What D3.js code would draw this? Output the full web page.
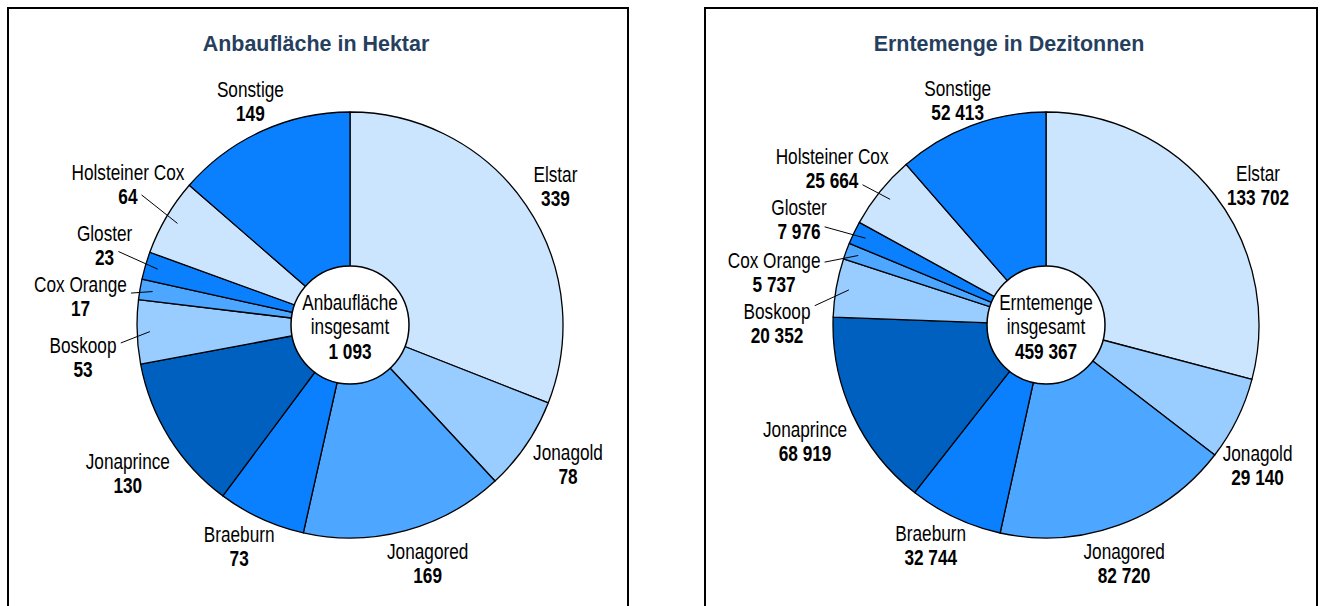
<!DOCTYPE html>
<html><head><meta charset="utf-8">
<script src="https://cdn.jsdelivr.net/npm/d3@7"></script>
<style>body{margin:0;background:#fff}svg{display:block}</style>
</head><body><svg id="c" width="1325" height="606"></svg>
<script>
const categories = ["Elstar","Jonagold","Jonagored","Braeburn","Jonaprince","Boskoop","Cox Orange","Gloster","Holsteiner Cox","Sonstige"];
const areaValues = [339,78,169,73,130,53,17,23,64,149];
const harvestValues = [133702,29140,82720,32744,68919,20352,5737,7976,25664,52413];
const areaTotal = 1093;
const harvestTotal = 459367;
const titles = ["Anbaufläche in Hektar","Erntemenge in Dezitonnen"];
const centerLabels = [["Anbaufläche","insgesamt"],["Erntemenge","insgesamt"]];
const sliceColors = ["#cce5ff","#99ccff","#4da6ff","#0a80ff","#0060c0","#99ccff","#4da6ff","#0a80ff","#cce5ff","#0a80ff"];
const leaderCats = ["Boskoop","Cox Orange","Gloster","Holsteiner Cox"];
// layout nudges for labels: [angle offset in degrees, distance beyond rim in px]
const labelNudgeArea = [[0.2,35],[-1.6,46],[-2.9,38],[1.9,35],[-1.7,54],[-5.1,56],[-3.6,58],[1.8,45],[1.9,50],[0.5,32]];
const labelNudgeHarvest = [[4.2,41],[7.4,41],[1.8,37.5],[2.3,36],[-0.9,54.6],[-9.7,56],[-9.3,64],[-2.6,55.5],[-2.7,52],[-0.9,28.7]];

const svg = d3.select("#c");
const loc = d3.formatLocale({decimal:",", thousands:" ", grouping:[3], currency:["","€"]});
const fmt = loc.format(",d");

function measure(family, str){
  const t = svg.append("text").attr("font-family", family).attr("font-size", 21).text(str);
  const w = t.node().getComputedTextLength(); t.remove(); return w;
}
const hasNarrow = Math.abs(measure("'Liberation Sans Narrow', monospace","Sonstige Cox") - measure("monospace","Sonstige Cox")) > 0.5;
const labelFamily = hasNarrow ? "'Liberation Sans Narrow', 'Arial Narrow', sans-serif" : "'Liberation Sans', Arial, sans-serif";
const FS = 22.5;
const sx = (hasNarrow ? 1 : 0.82) * 21 / FS;

function addLabel(g, x, y, str, bold){
  const t = g.append("text")
    .attr("transform", `translate(${x},${y}) scale(${sx},1)`)
    .attr("text-anchor","middle")
    .attr("font-family", labelFamily)
    .attr("font-size", FS)
    .attr("font-weight", bold ? "bold" : "normal")
    .attr("fill","#000")
    .text(str);
  return t.node().getComputedTextLength() * sx;
}

const panels = [
  {x0:8, x1:628, cx:350, cy:325, values:areaValues, total:areaTotal, nudge:labelNudgeArea},
  {x0:705, x1:1317, cx:1046, cy:325, values:harvestValues, total:harvestTotal, nudge:labelNudgeHarvest}
];
const R = 213, R0 = 59;

panels.forEach((p, pi) => {
  const g = svg.append("g");
  g.append("rect").attr("x", p.x0).attr("y", 8).attr("width", p.x1 - p.x0).attr("height", 640)
    .attr("fill","#fff").attr("stroke","#000").attr("stroke-width",2);
  g.append("text").attr("transform", `translate(${(p.x0 + p.x1)/2 - 2},50.5) scale(0.95,1)`)
    .attr("text-anchor","middle").attr("font-family","'Liberation Sans', Arial, sans-serif")
    .attr("font-size", 22.6).attr("font-weight","bold").attr("fill","#263f5f").text(titles[pi]);

  const pie = d3.pie().sort(null).value(d => d)(p.values);
  const arc = d3.arc().innerRadius(0).outerRadius(R);
  const pg = g.append("g").attr("transform", `translate(${p.cx},${p.cy})`);
  pg.selectAll("path.slice").data(pie).join("path").attr("class","slice")
    .attr("d", arc).attr("fill", (d,i) => sliceColors[i])
    .attr("stroke","#000").attr("stroke-width",1.3).attr("stroke-linejoin","round");
  pg.append("circle").attr("r", R0).attr("fill","#fff").attr("stroke","#000").attr("stroke-width",1.5);

  // centre text
  addLabel(g, p.cx, p.cy - 15, centerLabels[pi][0], false);
  addLabel(g, p.cx, p.cy + 9, centerLabels[pi][1], false);
  addLabel(g, p.cx, p.cy + 34, fmt(p.total), true);

  // outside labels
  pie.forEach((a, i) => {
    const mid = (a.startAngle + a.endAngle)/2;
    const ang = mid + p.nudge[i][0] * Math.PI/180;
    const rr = R + p.nudge[i][1];
    const lx = p.cx + rr*Math.sin(ang), ly = p.cy - rr*Math.cos(ang);
    const wN = addLabel(g, lx, ly - 4.5, categories[i], false);
    const wV = addLabel(g, lx, ly + 19.5, fmt(p.values[i]), true);
    if (leaderCats.includes(categories[i])) {
      const ex = p.cx + 0.94*R*Math.sin(mid), ey = p.cy - 0.94*R*Math.cos(mid);
      const inside = (x, y) => {
        const dx = Math.abs(x - lx), dy = y - ly;
        if (dy >= -22 && dy <= 0 && dx <= wN/2 + 4) return true;
        if (dy > 0 && dy <= 22 && dx <= wV/2 + 4) return true;
        return false;
      };
      let t = 0;
      while (t < 1 && inside(lx + (ex-lx)*t, ly + (ey-ly)*t)) t += 0.005;
      g.append("line").attr("x1", lx + (ex-lx)*t).attr("y1", ly + (ey-ly)*t)
        .attr("x2", ex).attr("y2", ey).attr("stroke","#000").attr("stroke-width",1);
    }
  });
});
</script></body></html>
